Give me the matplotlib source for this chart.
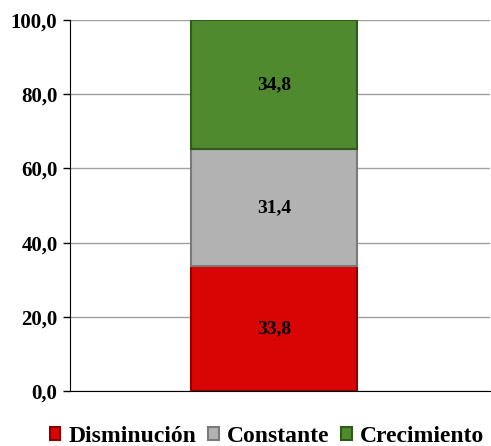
import matplotlib.pyplot as plt

categories = ["Disminución", "Constante", "Crecimiento"]
values = [33.8, 31.4, 34.8]
colors = ["#d90404", "#b2b2b2", "#4f8a2e"]
edges = ["#8c0000", "#7a7a7a", "#2f5a1a"]
yticks = [0, 20, 40, 60, 80, 100]

plt.rcParams['font.family'] = ['Liberation Serif', 'DejaVu Serif']

fig = plt.figure(figsize=(4.91, 4.46), dpi=100)
ax = fig.add_axes([70 / 491, 55 / 446, 420 / 491, 371 / 446])

bottom = 0
for cat, v, c, ec in zip(categories, values, colors, edges):
    ax.bar(0, v, width=0.395, bottom=bottom, color=c, edgecolor=ec,
           linewidth=1.5, label=cat, zorder=3)
    ax.text(0, bottom + v / 2, f"{v:.1f}".replace(".", ","), ha="center",
            va="center", fontsize=14, fontweight="bold", zorder=4)
    bottom += v

ax.set_xlim(-0.486, 0.514)
ax.set_ylim(0, 100)
ax.set_yticks(yticks)
ax.set_yticklabels([f"{t:.1f}".replace(".", ",") for t in yticks],
                   fontsize=15, fontweight="bold")
ax.set_xticks([])
ax.yaxis.grid(True, color="#a0a0a0", linewidth=1, zorder=0)
ax.tick_params(axis="y", length=5, width=1, color="black", pad=4)
for s in ["top", "right"]:
    ax.spines[s].set_visible(False)
ax.spines["left"].set_color("black")
ax.spines["bottom"].set_color("black")

leg = ax.legend(loc="upper center", bbox_to_anchor=(0.5 - 13 / 420, -0.05), ncol=3,
                frameon=False, prop={"size": 17, "weight": "bold"},
                handlelength=0.45, handleheight=0.45, handletextpad=0.35,
                columnspacing=0.5, borderpad=0.2)

fig.savefig("out.png", dpi=100)
